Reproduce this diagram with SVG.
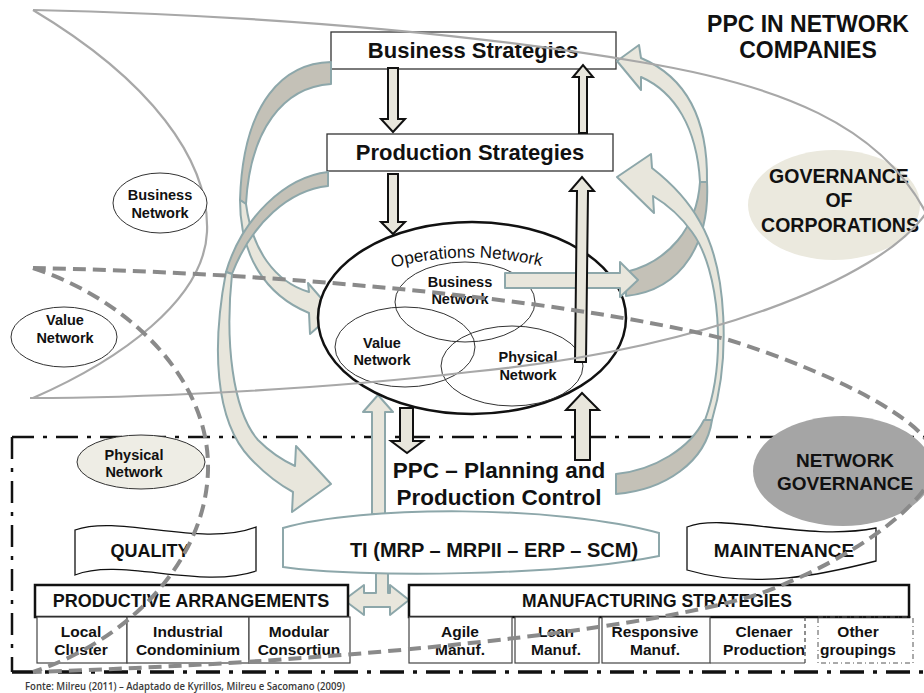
<svg xmlns="http://www.w3.org/2000/svg" width="924" height="693" viewBox="0 0 924 693">
<style>
.t{font-family:"Liberation Sans",Arial,sans-serif;font-weight:bold;fill:#111;text-anchor:middle}
.arw{fill:#e8e6dc;stroke:#8da7aa;stroke-width:2;stroke-linejoin:round}
.back{fill:#c4c1b7;stroke:#8da7aa;stroke-width:2;stroke-linejoin:round}
.blk{fill:#e8e6dc;stroke:#111;stroke-width:2}
.gl{fill:none;stroke:#a8a8a8;stroke-width:2.2}
.dl{fill:none;stroke:#8a8a8a;stroke-width:4;stroke-dasharray:13 7}
.cell{fill:#fff;stroke:#444;stroke-width:1.2}
.box{fill:#fff;stroke:#333;stroke-width:1.3}
.hbox{fill:#fff;stroke:#111;stroke-width:2.5}
.el{stroke:#333;stroke-width:1}
</style>
<defs>
<path id="opsArc" d="M378,272 Q465,244 556,270"/>
</defs>
<rect width="924" height="693" fill="#fff"/>

<g id="frame" fill="none" stroke="#111">
<path d="M12,437 L924,437" stroke-width="2.5" stroke-dasharray="22 9 4 9"/>
<path d="M12,437 L12,672" stroke-width="2.5" stroke-dasharray="22 9 4 9"/>
<path d="M12,672 L924,672" stroke-width="3.5" stroke-dasharray="24 9 4 9"/>
</g>

<g id="gov-corporations">
<ellipse cx="834" cy="205" rx="86" ry="55" fill="#ebe9de"/>
<text class="t" font-size="19.5" x="839" y="183">GOVERNANCE</text>
<text class="t" font-size="19.5" x="839" y="207">OF</text>
<text class="t" font-size="19.5" x="840" y="232">CORPORATIONS</text>
</g>
<g id="network-governance">
<ellipse cx="843" cy="471" rx="90" ry="55" fill="#a5a5a5"/>
<text class="t" font-size="19" x="845" y="467">NETWORK</text>
<text class="t" font-size="19" x="845" y="490">GOVERNANCE</text>
</g>

<g id="ti-arrows">
<path class="arw" d="M372,514 L372,412 L363,412 L378,395 L393,412 L385,412 L385,514 Z"/>
<path class="arw" d="M376,566 L388,566 L388,593 L390,593 L390,585 L409,600 L390,615 L390,607 L364,607 L364,615 L344,600 L364,585 L364,593 L376,593 Z"/>
</g>
<g id="ti">
<path d="M283,528 C360,505 560,505 659,533 L659,556 C560,576 360,578 283,567 Z" fill="#fff" stroke="#8da7aa" stroke-width="2"/>
<text class="t" font-size="20" x="494" y="557">TI (MRP – MRPII – ERP – SCM)</text>
</g>
<g id="quality">
<path d="M75,530 C120,514 200,548 256,527 L256,571 C200,590 120,557 75,575 Z" fill="#fff" stroke="#111" stroke-width="1.3"/>
<text class="t" font-size="18" x="150" y="557">QUALITY</text>
</g>
<g id="maintenance">
<path d="M687,527 C725,512 805,542 876,528 L876,561 C825,574 755,590 687,570 Z" fill="#fff" stroke="#111" stroke-width="1.3"/>
<text class="t" font-size="19" x="784" y="557">MAINTENANCE</text>
</g>

<g id="productive-arrangements">
<rect class="hbox" x="35" y="585" width="313" height="32"/>
<text class="t" font-size="18" x="191" y="607">PRODUCTIVE ARRANGEMENTS</text>
<rect class="cell" x="37" y="617" width="90" height="46"/>
<rect class="cell" x="127" y="617" width="122" height="46"/>
<rect class="cell" x="249" y="617" width="101" height="46"/>
<g font-size="15.5">
<text class="t" x="81" y="637">Local</text><text class="t" x="81" y="655">Cluster</text>
<text class="t" x="188" y="637">Industrial</text><text class="t" x="188" y="655">Condominium</text>
<text class="t" x="299" y="637">Modular</text><text class="t" x="299" y="655">Consortiun</text>
</g>
</g>

<g id="manufacturing-strategies">
<rect class="hbox" x="409" y="585" width="500" height="32"/>
<text class="t" font-size="17.5" x="657" y="607">MANUFACTURING STRATEGIES</text>
<rect class="cell" x="409" y="617" width="103" height="46"/>
<rect class="cell" x="515" y="617" width="84" height="46"/>
<rect class="cell" x="602" y="617" width="108" height="46"/>
<path d="M710,663 L805,663" stroke="#444" stroke-width="1.2"/>
<path d="M805,617 L805,663" stroke="#444" stroke-width="1.2" stroke-dasharray="4 3"/>
<rect x="818" y="617" width="95" height="46" fill="none" stroke="#555" stroke-width="1" stroke-dasharray="5 3 1 3"/>
<g font-size="15.5">
<text class="t" x="460" y="637">Agile</text><text class="t" x="460" y="655">Manuf.</text>
<text class="t" x="556" y="637">Lean</text><text class="t" x="556" y="655">Manuf.</text>
<text class="t" x="655" y="637">Responsive</text><text class="t" x="655" y="655">Manuf.</text>
<text class="t" x="764" y="637">Clenaer</text><text class="t" x="764" y="655">Production</text>
<text class="t" x="858" y="637">Other</text><text class="t" x="858" y="655">groupings</text>
</g>
</g>

<g id="business-strategies">
<rect class="box" x="331" y="32" width="285" height="37"/>
<text class="t" font-size="22" x="473" y="58">Business Strategies</text>
</g>
<g id="production-strategies">
<rect class="box" x="327" y="134" width="286" height="37"/>
<text class="t" font-size="22" x="470" y="160">Production Strategies</text>
</g>

<g id="connectors">
<path class="back" d="M331,62 C285,63 243,100 240,200 L246,204 C250,130 283,87 331,84 Z"/>
<path class="arw" d="M240,200 C240,255 265,295 309,313 L310,334 L334,313 L308,283 L309,292 C275,282 252,250 246,204 Z"/>
<path class="back" d="M328,172 C285,177 242,218 226,272 L232,274 C252,222 290,190 328,186 Z"/>
<path class="arw" d="M226,272 C212,345 214,420 250,458 C265,474 280,485 293,492 L292,512 L331,484 L296,446 L295,466 C282,460 268,450 258,440 C232,410 225,340 232,274 Z"/>
<path class="back" d="M626,272 C668,262 697,228 700,182 L707,182 C710,240 684,290 626,296 Z"/>
<path class="arw" d="M707,182 C708,122 688,78 641,58 L639,45 L617,61 L641,90 L641,77 C675,92 697,128 700,182 Z"/>
<path class="back" d="M616,474 C655,470 690,448 704,420 L712,420 C706,462 665,490 616,494 Z"/>
<path class="arw" d="M712,420 C730,360 728,270 700,222 C688,200 670,182 652,168 L651,154 L617,177 L654,213 L653,196 C668,205 682,218 692,232 C720,270 727,360 705,420 Z"/>
</g>

<g id="operations-network">
<ellipse cx="472" cy="318" rx="154" ry="96" fill="#fff" stroke="#111" stroke-width="2.5"/>
<ellipse cx="465" cy="302" rx="70" ry="40" fill="none" class="el"/>
<ellipse cx="405" cy="347" rx="70" ry="40" fill="none" class="el"/>
<ellipse cx="512" cy="366" rx="71" ry="40" fill="none" class="el"/>
<text font-family="Liberation Sans,Arial,sans-serif" font-size="17" fill="#111" text-anchor="middle"><textPath href="#opsArc" startOffset="50%">Operations Network</textPath></text>
<g font-size="14.5">
<text class="t" x="460" y="287">Business</text><text class="t" x="460" y="304">Network</text>
<text class="t" x="382" y="348">Value</text><text class="t" x="382" y="365">Network</text>
<text class="t" x="528" y="362">Physical</text><text class="t" x="528" y="380">Network</text>
</g>
</g>

<g id="connectors-2">
<path class="arw" d="M505,273 L620,273 L620,262 L638,280 L620,297 L620,288 L505,288 Z"/>
<path class="blk" d="M388,68 L398,68 L398,119 L405,119 L393,132 L381,119 L388,119 Z"/>
<path class="blk" d="M388,174 L398,174 L398,222 L405,222 L393,234 L381,222 L388,222 Z"/>
<path class="blk" d="M579,133 L587,133 L587,77 L593,77 L583,65 L573,77 L579,77 Z"/>
<path class="blk" d="M575,362 L586,362 L588,191 L594,191 L582,177 L570,191 L577,191 Z"/>
<path class="blk" d="M400,408 L413,408 L413,441 L423,441 L407,453 L391,441 L400,441 Z"/>
<path class="blk" d="M575,460 L590,460 L590,410 L599,410 L582,393 L566,410 L575,410 Z"/>
</g>

<g id="ppc">
<text class="t" font-size="22.5" x="499" y="478">PPC – Planning and</text>
<text class="t" font-size="22.5" x="499" y="505">Production Control</text>
</g>

<g id="boundaries">
<path class="gl" d="M33,10 C250,15 450,30 640,62 C780,85 880,125 926,213"/>
<path class="gl" d="M926,213 C880,280 700,350 470,372 C300,392 120,398 30,398"/>
<path class="gl" d="M33,10 C150,80 210,160 207,232 C204,300 120,360 33,398"/>
<path class="dl" d="M33,268 C130,300 210,380 208,470 C206,560 130,640 33,672"/>
<path class="dl" d="M33,268 C250,272 550,295 729,340 C840,375 950,430 935,470 C920,510 850,560 762,593 C650,630 350,662 33,672"/>
</g>

<g id="business-network">
<ellipse cx="160" cy="203" rx="47" ry="30" fill="#fff" class="el"/>
<text class="t" font-size="14.5" x="160" y="200">Business</text>
<text class="t" font-size="14.5" x="160" y="218">Network</text>
</g>
<g id="value-network">
<ellipse cx="64" cy="337" rx="53" ry="30" fill="#fff" class="el"/>
<text class="t" font-size="14.5" x="65" y="325">Value</text>
<text class="t" font-size="14.5" x="65" y="343">Network</text>
</g>
<g id="physical-network">
<ellipse cx="141" cy="462" rx="64" ry="27" fill="#eeede5" class="el"/>
<text class="t" font-size="14.5" x="134" y="460">Physical</text>
<text class="t" font-size="14.5" x="134" y="477">Network</text>
</g>

<g id="title">
<text class="t" font-size="23" x="808" y="32">PPC IN NETWORK</text>
<text class="t" font-size="23" x="808" y="58">COMPANIES</text>
</g>
<text x="25" y="690" font-family="Open Sans,Liberation Sans,sans-serif" font-size="11" font-weight="600" fill="#3a3a3a" textLength="320" lengthAdjust="spacingAndGlyphs">Fonte: Milreu (2011) – Adaptado de Kyrillos, Milreu e Sacomano (2009)</text>
</svg>
